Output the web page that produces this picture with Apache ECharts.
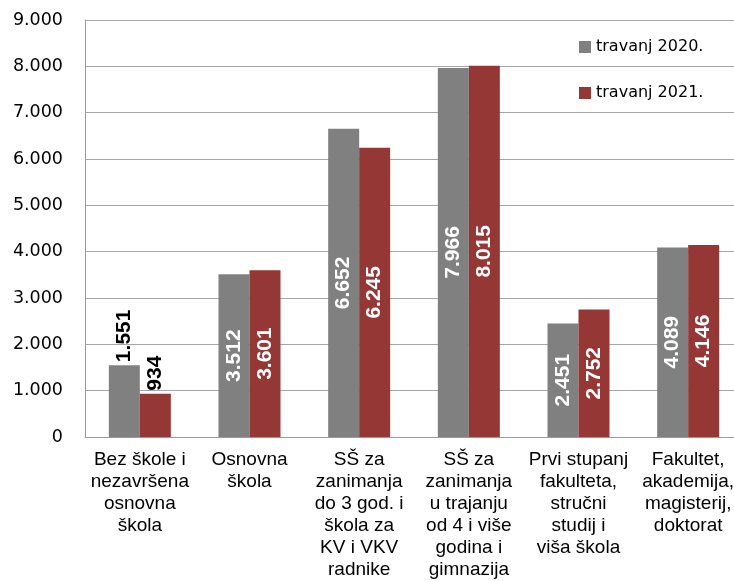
<!DOCTYPE html>
<html>
<head>
<meta charset="utf-8">
<script src="https://cdn.jsdelivr.net/npm/echarts@6/dist/echarts.min.js"></script>
<style>
html,body{margin:0;padding:0;background:#fff;overflow:hidden;width:734px;height:581px;}
#c{width:745px;height:581px;}
</style>
</head>
<body>
<div id="c"></div>
<script>
const categories = [
  'Bez škole i\nnezavršena\nosnovna\nškola',
  'Osnovna\nškola',
  'SŠ za\nzanimanja\ndo 3 god. i\nškola za\nKV i VKV\nradnike',
  'SŠ za\nzanimanja\nu trajanju\nod 4 i više\ngodina i\ngimnazija',
  'Prvi stupanj\nfakulteta,\nstručni\nstudij i\nviša škola',
  'Fakultet,\nakademija,\nmagisterij,\ndoktorat'
];
const seriesNames = ['travanj 2020.', 'travanj 2021.'];
const values2020 = [1551, 3512, 6652, 7966, 2451, 4089];
const values2021 = [934, 3601, 6245, 8015, 2752, 4146];
const colors = ['#808080', '#953735'];

function fmt(v) {
  return String(v).replace(/\B(?=(\d{3})+(?!\d))/g, '.');
}

function buildData(vals) {
  return vals.map((v, i) => {
    if (i === 0) {
      return {
        value: v,
        label: {
          position: 'top',
          rotate: 90,
          align: 'left',
          verticalAlign: 'middle',
          distance: 3,
          color: '#000'
        }
      };
    }
    return v;
  });
}

const labelBase = {
  show: true,
  position: 'inside',
  rotate: 90,
  align: 'center',
  verticalAlign: 'middle',
  color: '#fff',
  fontFamily: 'Liberation Sans',
  fontWeight: 'bold',
  fontSize: 21,
  formatter: p => fmt(p.value)
};

const chart = echarts.init(document.getElementById('c'));
chart.setOption({
  animation: false,
  grid: { left: 85, top: 20, width: 658, height: 418, containLabel: false },
  legend: {
    orient: 'vertical',
    left: 574,
    top: 34,
    itemWidth: 12,
    itemHeight: 12,
    itemGap: 30,
    icon: 'rect',
    textStyle: { fontFamily: 'DejaVu Sans', fontSize: 16, color: '#000' },
    data: seriesNames
  },
  xAxis: {
    type: 'category',
    data: categories,
    axisLine: { show: true, lineStyle: { color: '#999', width: 1 } },
    axisTick: { show: false },
    axisLabel: {
      interval: 0,
      margin: 12,
      color: '#000',
      fontFamily: 'Liberation Sans',
      fontSize: 19,
      lineHeight: 22,
      align: 'center'
    }
  },
  yAxis: {
    type: 'value',
    min: 0,
    max: 9000,
    interval: 1000,
    axisLine: { show: true, lineStyle: { color: '#999', width: 1 } },
    axisTick: { show: false },
    splitLine: { show: true, lineStyle: { color: '#a6a6a6', width: 1 } },
    axisLabel: {
      margin: 22,
      color: '#000',
      fontFamily: 'DejaVu Sans',
      fontSize: 17.5,
      formatter: v => fmt(v)
    }
  },
  series: [
    {
      name: seriesNames[0],
      type: 'bar',
      data: buildData(values2020),
      itemStyle: { color: colors[0] },
      barWidth: 31,
      barGap: '0%',
      label: labelBase
    },
    {
      name: seriesNames[1],
      type: 'bar',
      data: buildData(values2021),
      itemStyle: { color: colors[1] },
      barWidth: 31,
      barGap: '0%',
      label: labelBase
    }
  ]
});
</script>
</body>
</html>
